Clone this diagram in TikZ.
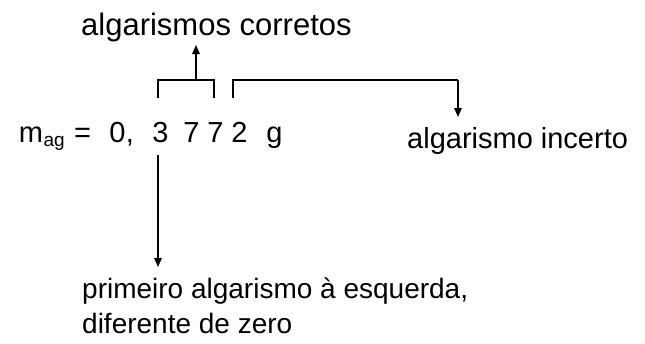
\documentclass[tikz,border=0pt]{standalone}
\usepackage{fontspec}
\setmainfont{Liberation Sans}
\usetikzlibrary{arrows.meta}
\begin{document}
\begin{tikzpicture}[x=1pt,y=1pt,
  lbl/.style={inner sep=0pt,anchor=base west,font=\fontsize{29}{35}\selectfont,align=left},
  eq/.style={inner sep=0pt,anchor=base,font=\fontsize{29}{34}\selectfont},
  sub/.style={inner sep=0pt,anchor=base west,font=\fontsize{19}{22}\selectfont},
  conn/.style={line width=1.6pt},
  arr/.style={line width=1.6pt,-{Triangle[length=9pt,width=7.5pt]}}]
\useasboundingbox (0,0) rectangle (645,-343);
% equation
\node[eq] (m) at (31,-142) {m};
\node[sub] (ag) at (43.4,-146) {ag};
\node[eq] (eqs) at (82.5,-142) {=};
\node[eq] (z) at (117.5,-142) {0};
\node[eq] (cm) at (130,-142) {,};
\node[eq] (d3) at (160.5,-142) {3};
\node[eq] (d7a) at (191.5,-142) {7};
\node[eq] (d7b) at (215.5,-142) {7};
\node[eq] (d2) at (239.5,-142) {2};
\node[eq] (g) at (274.5,-142) {g};
% labels
\node[lbl,font=\fontsize{31}{37}\selectfont] (cor) at (81,-35) {algarismos corretos};
\node[lbl] (inc) at (407,-148) {algarismo incerto};
\node[lbl,font=\fontsize{28}{35}\selectfont] (pri) at (82,-333) {primeiro algarismo à esquerda,\\diferente de zero};
% bracket coordinates
\coordinate (b1l) at (158,-98);
\coordinate (b1r) at (214,-98);
\coordinate (b1m) at (196,-80);
\coordinate (up) at (196,-45);
\coordinate (b2l) at (233,-98);
\coordinate (b2r) at (458,-80);
\coordinate (dn) at (458,-117);
\coordinate (s3) at (158,-155);
\coordinate (e3) at (158,-267);
% connectors
\draw[conn] (b1l) |- (b1m) -| (b1r);
\draw[arr] (b1m) -- (up);
\draw[conn] (b2l) |- (b2r);
\draw[arr] (b2r) -- (dn);
\draw[arr] (s3) -- (e3);
\end{tikzpicture}
\end{document}
